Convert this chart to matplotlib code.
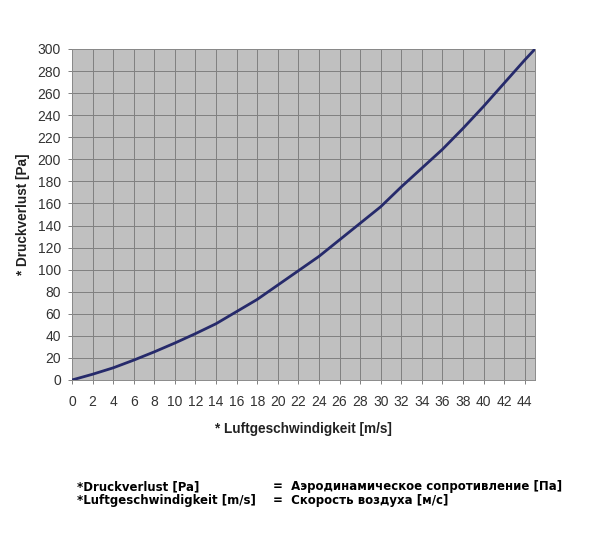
import numpy as np
import matplotlib
matplotlib.use('Agg')
import matplotlib.pyplot as plt

# air speed [m/s] and pressure loss [Pa]
speed = [0, 2, 4, 6, 8, 10, 12, 14, 16, 18, 20, 22, 24, 26, 28, 30,
         32, 34, 36, 38, 40, 42, 44, 45]
pressure = [0, 5.2, 11, 18, 25.5, 33.5, 42, 51, 62, 73, 86, 99, 112, 127,
            142, 157, 175, 192, 209, 228, 248, 269, 290, 300]

x_ticks = list(range(0, 46, 2))
y_ticks = list(range(0, 301, 20))

fig = plt.figure(figsize=(6.0, 5.37), dpi=100)
ax = fig.add_axes([0.12, 0.2924, 0.7717, 0.6164])

ax.set_facecolor('#c0c0c0')
ax.plot(speed, pressure, color='#262a6b', linewidth=2.0, zorder=3,
        solid_joinstyle='round')

ax.set_xlim(0, 45)
ax.set_ylim(0, 300)
ax.set_xticks(x_ticks)
ax.set_yticks(y_ticks)
ax.grid(True, color='#808080', linewidth=0.7, zorder=1)
ax.set_axisbelow(True)

for s in ax.spines.values():
    s.set_color('#8a8a8a')
    s.set_linewidth(0.7)

ax.tick_params(axis='both', direction='out', length=3, width=0.7,
               color='#808080', labelsize=10, labelcolor='#333333')
ax.tick_params(axis='x', pad=8)
ax.tick_params(axis='y', pad=5)
for lbl in ax.get_xticklabels() + ax.get_yticklabels():
    lbl.set_family('Liberation Sans')

ax.set_xlabel('* Luftgeschwindigkeit [m/s]', fontsize=9.8, fontweight='bold',
              family='Liberation Sans', color='#222222', labelpad=9)
ax.set_ylabel('* Druckverlust [Pa]', fontsize=9.8, fontweight='bold',
              family='Liberation Sans', color='#222222', labelpad=5)

# legend-like note below the chart
note_left = ['*Druckverlust [Pa]', '*Luftgeschwindigkeit [m/s]']
note_right = ['=  Аэродинамическое сопротивление [Па]',
              '=  Скорость воздуха [м/с]']
for i, (l, r) in enumerate(zip(note_left, note_right)):
    y = 1 - (490 + i * 14) / 537
    fig.text(77 / 600, y, l, fontsize=8.5, fontweight='bold',
             family='DejaVu Sans', va='baseline', ha='left')
    fig.text(273 / 600, y, r, fontsize=8.5, fontweight='bold',
             family='DejaVu Sans', va='baseline', ha='left')

fig.savefig('out.png', dpi=100)
